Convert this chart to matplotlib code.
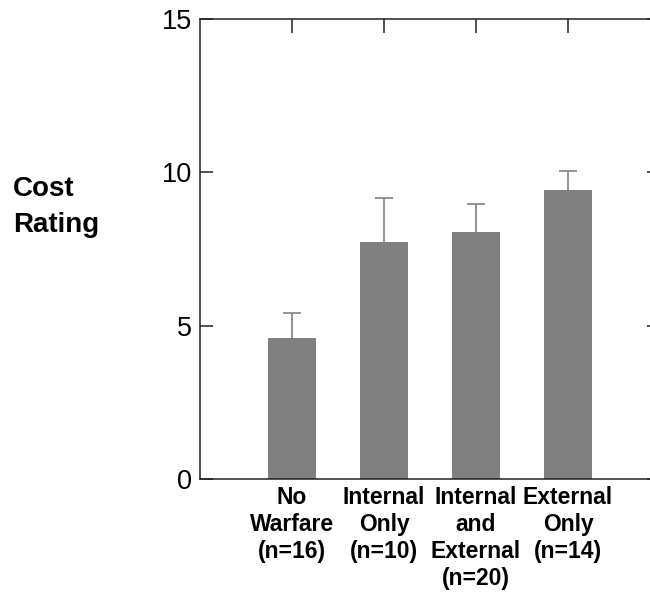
import matplotlib.pyplot as plt
import numpy as np

plt.rcParams['font.family'] = ['Liberation Sans', 'DejaVu Sans']

groups = ['No\nWarfare\n(n=16)', 'Internal\nOnly\n(n=10)', 'Internal\nand\nExternal\n(n=20)', 'External\nOnly\n(n=14)']
means = [4.6, 7.74, 8.07, 9.44]
err_up = [0.81, 1.43, 0.89, 0.6]
yticks = [0, 5, 10, 15]

x = np.arange(1, len(groups) + 1)

fig = plt.figure(figsize=(6.5, 6.03), dpi=100)
# axes runs past the right edge of the picture, as in the original
ax = fig.add_axes([200 / 650, 124 / 603, 460 / 650, 460 / 603])

# error bars sit behind the bars, so only the upper half shows
ax.errorbar(x, means, yerr=err_up, fmt='none',
            ecolor='#808080', elinewidth=1.2, capsize=6.5, capthick=1.2, zorder=1)
ax.bar(x, means, width=0.52, color='#808080', zorder=2)

ax.set_xlim(0, 5)
ax.set_ylim(0, 15)
ax.set_yticks(yticks)
ax.set_xticks(x)
ax.set_xticklabels(groups, fontsize=16.5, fontweight='bold', linespacing=1.22)

for s in ax.spines.values():
    s.set_linewidth(1.1)
    s.set_color('#222222')
ax.spines['right'].set_visible(False)

ax.tick_params(axis='y', direction='in', length=9.5, width=1.1, left=True, right=True,
               labelsize=19.5, pad=6, color='#222222')
ax.tick_params(axis='x', direction='in', length=10, width=1.1, bottom=False, top=True,
               labelbottom=True, labeltop=False, pad=5, color='#222222')

fig.text(13 / 650, 1 - 207 / 603, 'Cost\nRating', fontsize=20, fontweight='bold',
         ha='left', va='center', linespacing=1.45)

fig.savefig('out.png', dpi=100)
